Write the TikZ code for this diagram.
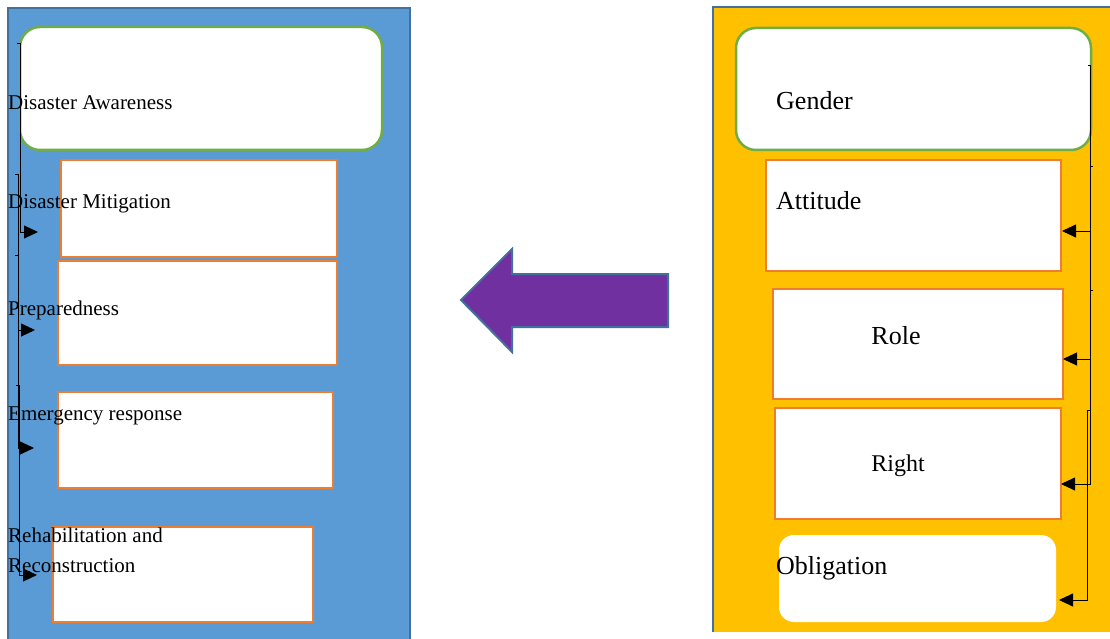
\documentclass[tikz,border=0pt]{standalone}
\usepackage{fontspec}
\setmainfont{Liberation Serif}
\usetikzlibrary{arrows.meta}
\definecolor{panelblue}{HTML}{5B9BD5}
\definecolor{edgeblue}{HTML}{41719C}
\definecolor{panelyellow}{HTML}{FFC000}
\definecolor{boxgreen}{HTML}{70AD47}
\definecolor{boxorange}{HTML}{ED7D31}
\definecolor{arrowpurple}{HTML}{7030A0}
\begin{document}
\begin{tikzpicture}[x=1pt,y=-1pt,
  panel/.style={draw=edgeblue,line width=2.5pt},
  roundbox/.style={draw=boxgreen,fill=white,line width=2.5pt,rounded corners=20pt},
  orangebox/.style={draw=boxorange,fill=white,line width=2.5pt},
  plainbox/.style={fill=white,rounded corners=15pt},
  lefttext/.style={anchor=base west,inner sep=0pt,font=\fontsize{21}{30}\selectfont,align=left},
  righttext/.style={anchor=base west,inner sep=0pt,font=\fontsize{26}{30}\selectfont},
  conn/.style={draw=black,line width=0.9pt,-{Triangle[length=14pt,width=13pt]}}
]
\useasboundingbox (0,0) rectangle (1110,639);
\fill[white] (0,0) rectangle (1110,639);
% panels
\fill[panelblue] (8,8) rectangle (410,640);
\draw[panel] (8,640) -- (8,8) -- (410,8) -- (410,640);
\fill[panelyellow] (713,7) rectangle (1115,632);
\draw[panel] (713,632) -- (713,7) -- (1115,7);
% left boxes
\path[roundbox] (20,27) rectangle (382,150) node[pos=0.5] (awareness) {};
\path[orangebox] (61,160) rectangle (337,257) node[pos=0.5] (mitigation) {};
\path[orangebox] (58,261) rectangle (337,365) node[pos=0.5] (preparedness) {};
\path[orangebox] (58,392) rectangle (333,488) node[pos=0.5] (emergency) {};
\path[orangebox] (53,527) rectangle (313,622) node[pos=0.5] (rehab) {};
% left texts
\node[lefttext] (tawareness) at (8,110) {Disaster Awareness};
\node[lefttext] (tmitigation) at (8,208) {Disaster Mitigation};
\node[lefttext] (tpreparedness) at (8,315) {Preparedness};
\node[lefttext] (temergency) at (8,420) {Emergency response};
\node[lefttext] (trehab1) at (8,542) {Rehabilitation and};
\node[lefttext] (trehab2) at (8,572) {Reconstruction};
% left connectors
\coordinate (la0) at (17,43);  \coordinate (la1) at (20,43);  \coordinate (la2) at (38,232);
\coordinate (lb0) at (15,174); \coordinate (lb1) at (18,174); \coordinate (lb2) at (35,330);
\coordinate (lc0) at (15,255); \coordinate (lc1) at (18,255); \coordinate (lc2) at (34,448);
\coordinate (ld0) at (16,385); \coordinate (ld1) at (19,385); \coordinate (ld2) at (37,575);
\draw[conn] (la0) -- (la1) |- (la2);
\draw[conn] (lb0) -- (lb1) |- (lb2);
\draw[conn] (lc0) -- (lc1) |- (lc2);
\draw[conn] (ld0) -- (ld1) |- (ld2);
% big arrow
\filldraw[draw=edgeblue,fill=arrowpurple,line width=2pt]
  (461,300) -- (512,249) -- (512,274) -- (668,274) -- (668,327) -- (512,327) -- (512,352) -- cycle;
% right boxes
\path[roundbox] (736,28) rectangle (1091,150) node[pos=0.5] (gender) {};
\path[orangebox] (766,160) rectangle (1061,271) node[pos=0.5] (attitude) {};
\path[orangebox] (773,289) rectangle (1063,399) node[pos=0.5] (role) {};
\path[orangebox] (775,408) rectangle (1061,519) node[pos=0.5] (right) {};
\path[plainbox] (779,535) rectangle (1056,622) node[pos=0.5] (obligation) {};
% right texts
\node[righttext] (tgender) at (776,110) {Gender};
\node[righttext] (tattitude) at (776,209) {Attitude};
\node[righttext,anchor=base] (trole) at (896,344) {Role};
\node[righttext,anchor=base,font=\fontsize{24}{28}\selectfont] (tright) at (898,471) {Right};
\node[righttext] (tobligation) at (776,574) {Obligation};
% right connectors
\coordinate (ra0) at (1088,65);  \coordinate (ra1) at (1090,65);  \coordinate (ra2) at (1062,231);
\coordinate (rb0) at (1093,166); \coordinate (rb1) at (1090,166); \coordinate (rb2) at (1063,359);
\coordinate (rc0) at (1093,290); \coordinate (rc1) at (1090,290); \coordinate (rc2) at (1061,484);
\coordinate (rd0) at (1090,410); \coordinate (rd1) at (1087,410); \coordinate (rd2) at (1059,600);
\draw[conn] (ra0) -- (ra1) |- (ra2);
\draw[conn] (rb0) -- (rb1) |- (rb2);
\draw[conn] (rc0) -- (rc1) |- (rc2);
\draw[conn] (rd0) -- (rd1) |- (rd2);
\end{tikzpicture}
\end{document}
